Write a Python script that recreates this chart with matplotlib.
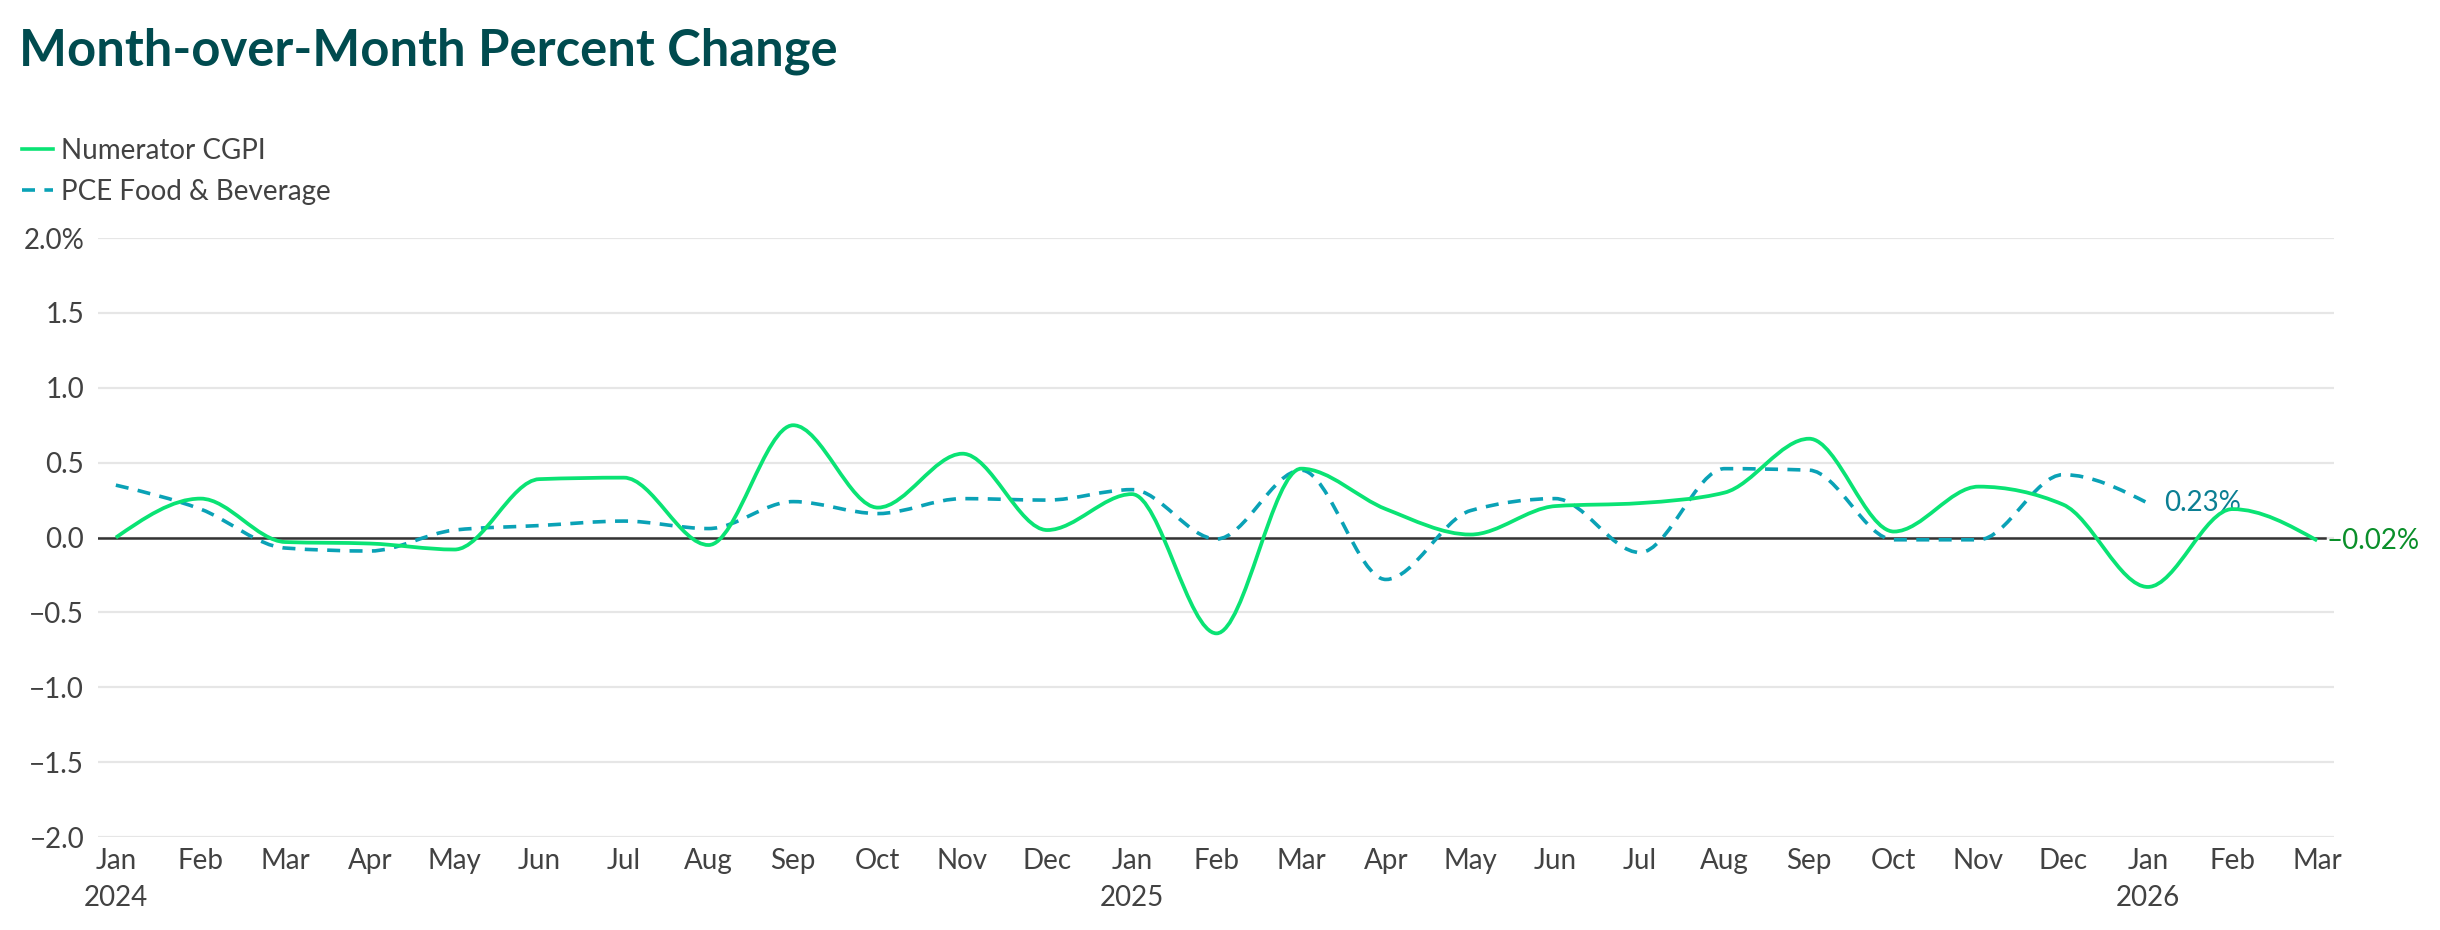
import numpy as np
import matplotlib
matplotlib.use("Agg")
import matplotlib.pyplot as plt
from matplotlib.path import Path
from matplotlib.patches import PathPatch
from matplotlib.lines import Line2D

# Data, Jan 2024 .. Mar 2026
months = ["Jan", "Feb", "Mar", "Apr", "May", "Jun", "Jul", "Aug", "Sep",
          "Oct", "Nov", "Dec"] * 2 + ["Jan", "Feb", "Mar"]
years = {0: "2024", 12: "2025", 24: "2026"}

cgpi = [0.00, 0.26, -0.03, -0.04, -0.08, 0.39, 0.40, -0.05, 0.75, 0.20,
        0.56, 0.05, 0.29, -0.64, 0.46, 0.19, 0.02, 0.21, 0.23, 0.30,
        0.66, 0.04, 0.34, 0.22, -0.33, 0.19, -0.02]
pce = [0.35, 0.19, -0.07, -0.09, 0.05, 0.08, 0.11, 0.06, 0.24, 0.16,
       0.26, 0.25, 0.32, -0.01, 0.45, -0.28, 0.18, 0.26, -0.10, 0.46,
       0.45, -0.015, -0.015, 0.42, 0.23]

y_ticks = [2.0, 1.5, 1.0, 0.5, 0.0, -0.5, -1.0, -1.5, -2.0]

GREEN = "#0ae374"
TEAL = "#0aa2b6"
TEAL_TXT = "#0b7f93"
GREEN_TXT = "#0a8f2a"
TITLE = "#004b4f"
TXT = "#424242"
FS = 20


def monotone_path(xs, ys):
    """Cubic bezier path like d3.curveMonotoneX."""
    xs = np.asarray(xs, float)
    ys = np.asarray(ys, float)
    n = len(xs)
    h = np.diff(xs)
    s = np.diff(ys) / h
    t = np.zeros(n)
    for i in range(1, n - 1):
        p = (s[i - 1] * h[i] + s[i] * h[i - 1]) / (h[i - 1] + h[i])
        t[i] = (np.sign(s[i - 1]) + np.sign(s[i])) * min(abs(s[i - 1]), abs(s[i]), 0.5 * abs(p))
    t[0] = (3 * s[0] - t[1]) / 2
    t[-1] = (3 * s[-1] - t[-2]) / 2
    verts = [(xs[0], ys[0])]
    codes = [Path.MOVETO]
    for i in range(n - 1):
        dx = h[i] / 3
        verts += [(xs[i] + dx, ys[i] + dx * t[i]),
                  (xs[i + 1] - dx, ys[i + 1] - dx * t[i + 1]),
                  (xs[i + 1], ys[i + 1])]
        codes += [Path.CURVE4] * 3
    return Path(verts, codes)


plt.rcParams['font.family'] = ['Lato', 'DejaVu Sans']

fig = plt.figure(figsize=(24.4, 9.3), dpi=100)
ax = fig.add_axes([0.0402, 0.1, 0.9164, 0.644])

x_c = np.arange(len(cgpi))
x_p = np.arange(len(pce))

ax.add_patch(PathPatch(monotone_path(x_p, pce), fill=False, edgecolor=TEAL,
                       lw=2.6, linestyle=(0, (3.6, 2.6)), capstyle='butt',
                       zorder=3, clip_on=False))
ax.add_patch(PathPatch(monotone_path(x_c, cgpi), fill=False, edgecolor=GREEN,
                       lw=2.7, zorder=4, clip_on=False))

ax.set_xlim(-0.21, 26.2)
ax.set_ylim(-2, 2)

# grid + zero line
for yv in y_ticks:
    ax.axhline(yv, color="#e6e6e6", lw=1.6, zorder=0)
ax.axhline(0, xmax=0.996, color="#333333", lw=1.8, zorder=2)

for sp in ax.spines.values():
    sp.set_visible(False)

ax.set_yticks(y_ticks)
ylabels = []
for v in y_ticks:
    s = f"{v:.1f}".replace("-", "\u2212")
    if v == 2.0:
        s += "%"
    ylabels.append(s)
ax.set_yticklabels(ylabels, fontsize=FS, color=TXT)

ax.set_xticks(np.arange(len(months)))
xlabels = [m + ("\n" + years[i] if i in years else "") for i, m in enumerate(months)]
ax.set_xticklabels(xlabels, fontsize=FS, color=TXT, linespacing=1.5, va='top')
ax.tick_params(axis='both', length=0)
ax.tick_params(axis='y', pad=10)
ax.tick_params(axis='x', pad=8)

# end labels
ax.annotate(f"{pce[-1]:.2f}%", (x_p[-1], pce[-1]), xytext=(12, 0),
            textcoords='offset points', va='center', ha='left',
            fontsize=FS, color=TEAL_TXT)
ax.annotate(f"\u2013{abs(cgpi[-1]):.2f}%", (x_c[-1], cgpi[-1]), xytext=(7, 0),
            textcoords='offset points', va='center', ha='left',
            fontsize=FS, color=GREEN_TXT)

fig.text(0.0078, 0.93, "Month-over-Month Percent Change", fontsize=36.5,
         fontweight='bold', color=TITLE, va='baseline', ha='left')

handles = [Line2D([], [], color=GREEN, lw=2.6),
           Line2D([], [], color=TEAL, lw=2.6, linestyle=(0, (3.6, 2.6)))]
fig.legend(handles, ["Numerator CGPI", "PCE Food & Beverage"],
           loc='upper left', bbox_to_anchor=(0.009, 0.852), frameon=False,
           fontsize=FS, handlelength=1.1, handletextpad=0.3,
           labelspacing=0.55, borderaxespad=0, borderpad=0,
           labelcolor=TXT)

fig.savefig("out.png", dpi=100)
